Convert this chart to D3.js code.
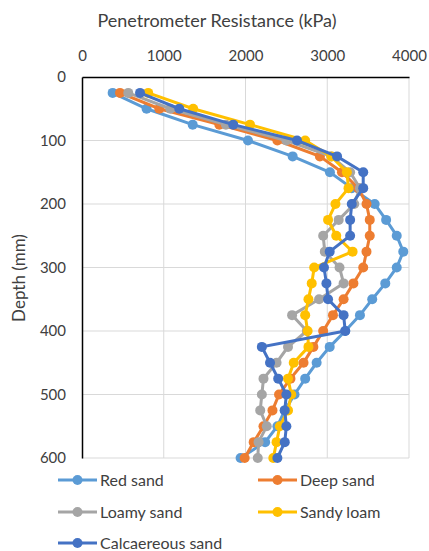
<html>
<head>
  <title>Penetrometer resistance</title>
  <script src="https://d3js.org/d3.v7.min.js"></script>
  <style>
    body { margin: 0; background: #fff; }
    text { font-family: Lato, "Open Sans", sans-serif; fill: #404040; }
    .grid line { stroke: #d9d9d9; stroke-width: 1; }
  </style>
</head>
<body>
<script>
var width = 429,
    height = 551;

var depths = [25, 50, 75, 100, 125, 150, 175, 200, 225, 250, 275, 300,
              325, 350, 375, 400, 425, 450, 475, 500, 525, 550, 575, 600];

var redSand    = [375, 790, 1354, 2030, 2577, 3033, 3300, 3580, 3720, 3850, 3930, 3850,
                  3710, 3550, 3400, 3220, 3030, 2870, 2730, 2600, 2480, 2390, 2240, 1940];
var deepSand   = [465, 945, 1680, 2390, 2910, 3180, 3380, 3480, 3520, 3520, 3480, 3440,
                  3320, 3200, 3070, 2950, 2830, 2710, 2550, 2410, 2330, 2220, 2100, 1990];
var loamySand  = [566, 1080, 1760, 2500, 3050, 3280, 3400, 3330, 3140, 2950, 2970, 3150,
                  3200, 2900, 2570, 2750, 2520, 2380, 2220, 2200, 2180, 2260, 2160, 2150];
var sandyLoam  = [810, 1360, 2055, 2730, 3050, 3240, 3260, 3100, 3010, 3110, 3310, 2840,
                  2810, 2770, 2730, 2760, 2770, 2590, 2520, 2560, 2520, 2420, 2380, 2340];
var calcSand   = [710, 1190, 1850, 2630, 3120, 3440, 3440, 3300, 3280, 3280, 3030, 2960,
                  2990, 3010, 3200, 3220, 2200, 2300, 2400, 2500, 2480, 2500, 2480, 2390];

var seriesNames = ["Red sand", "Deep sand", "Loamy sand", "Sandy loam", "Calcaereous sand"];
var seriesColors = ["#5b9bd5", "#ed7d31", "#a5a5a5", "#ffc000", "#4472c4"];
var seriesValues = [redSand, deepSand, loamySand, sandyLoam, calcSand];

var xTicks = [0, 1000, 2000, 3000, 4000];
var yTicks = [0, 100, 200, 300, 400, 500, 600];

var svg = d3.select("body")
  .append("svg")
  .attr("width", width)
  .attr("height", height);

var x = d3.scaleLinear().domain([0, 4000]).range([82, 409]);
var y = d3.scaleLinear().domain([0, 600]).range([77, 458]);

// gridlines
var grid = svg.append("g").attr("class", "grid");
grid.selectAll(".gx")
  .data(xTicks.slice(1))
  .enter().append("line")
  .attr("x1", d => x(d)).attr("x2", d => x(d))
  .attr("y1", y(0)).attr("y2", y(600));
grid.selectAll(".gy")
  .data(yTicks.slice(1))
  .enter().append("line")
  .attr("x1", x(0)).attr("x2", x(4000))
  .attr("y1", d => y(d)).attr("y2", d => y(d));

// axes
var xAxis = svg.append("g")
  .attr("transform", "translate(0," + y(0) + ")")
  .call(d3.axisTop(x).tickValues(xTicks).tickFormat(d3.format("d")).tickSize(0).tickPadding(16));
var yAxis = svg.append("g")
  .attr("transform", "translate(" + x(0) + ",0)")
  .call(d3.axisLeft(y).tickValues(yTicks).tickFormat(d3.format("d")).tickSize(0).tickPadding(16));

[xAxis, yAxis].forEach(function(a) {
  a.select(".domain").attr("stroke", "#000").attr("stroke-width", 1.5);
  a.selectAll("text").style("font-size", "15px").style("font-family", "Lato, sans-serif").attr("fill", "#404040");
});

svg.append("text")
  .attr("x", 217).attr("y", 27)
  .attr("text-anchor", "middle")
  .style("font-size", "18px")
  .text("Penetrometer Resistance (kPa)");

svg.append("text")
  .attr("transform", "translate(25,278) rotate(-90)")
  .attr("text-anchor", "middle")
  .style("font-size", "17px")
  .text("Depth (mm)");

// series
var line = d3.line()
  .x(d => x(d[1]))
  .y(d => y(d[0]));

seriesValues.forEach(function(vals, i) {
  var pts = depths.map((dp, j) => [dp, vals[j]]);
  var g = svg.append("g");
  g.append("path")
    .datum(pts)
    .attr("d", line)
    .attr("fill", "none")
    .attr("stroke", seriesColors[i])
    .attr("stroke-width", 3);
  g.selectAll("circle")
    .data(pts)
    .enter().append("circle")
    .attr("cx", d => x(d[1]))
    .attr("cy", d => y(d[0]))
    .attr("r", 5)
    .attr("fill", seriesColors[i]);
});

// legend
var legendPos = [[58, 480], [258, 480], [58, 512], [258, 512], [58, 543]];
var legend = svg.append("g");
seriesNames.forEach(function(name, i) {
  var p = legendPos[i];
  legend.append("line")
    .attr("x1", p[0]).attr("x2", p[0] + 39)
    .attr("y1", p[1]).attr("y2", p[1])
    .attr("stroke", seriesColors[i]).attr("stroke-width", 3);
  legend.append("circle")
    .attr("cx", p[0] + 19.5).attr("cy", p[1]).attr("r", 5)
    .attr("fill", seriesColors[i]);
  legend.append("text")
    .attr("x", p[0] + 42).attr("y", p[1])
    .attr("dy", "0.35em")
    .style("font-size", "16px")
    .text(name);
});
</script>
</body>
</html>
